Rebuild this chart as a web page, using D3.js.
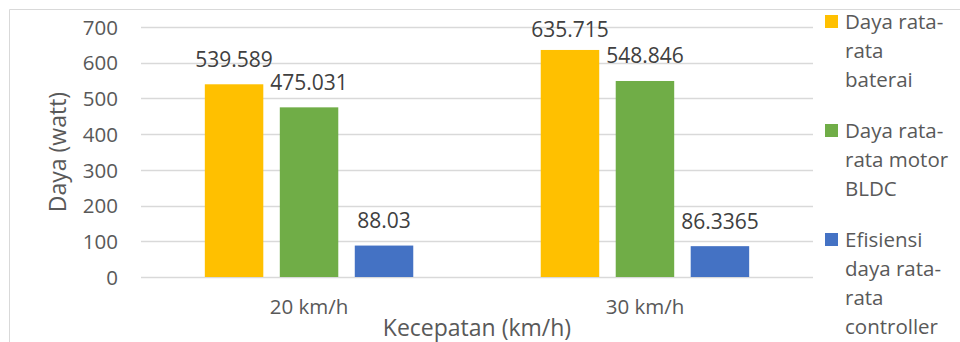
<!DOCTYPE html>
<html>
<head>
<meta charset="utf-8">
<script src="https://cdn.jsdelivr.net/npm/d3@7/dist/d3.min.js"></script>
<style>
  html, body { margin: 0; padding: 0; background: #ffffff; }
  svg { display: block; }
  text { font-family: "Open Sans", "Noto Sans", sans-serif; }
</style>
</head>
<body>
<svg id="chart" width="960" height="342"></svg>
<script>
// Speed categories
const categories = ["20 km/h", "30 km/h"];
// Series names (legend lines are split where the text wraps)
const seriesNames = [
  ["Daya rata-", "rata", "baterai"],
  ["Daya rata-", "rata motor", "BLDC"],
  ["Efisiensi", "daya rata-", "rata", "controller"]
];
const seriesColors = ["#ffc000", "#70ad47", "#4472c4"];
// Values per series, one per category
const bateraiValues = [539.589, 635.715];
const motorValues = [475.031, 548.846];
const controllerValues = [88.03, 86.3365];
const valueLabels = [["539.589", "635.715"], ["475.031", "548.846"], ["88.03", "86.3365"]];
const yTicks = [0, 100, 200, 300, 400, 500, 600, 700];

const seriesValues = [bateraiValues, motorValues, controllerValues];

const svg = d3.select("#chart");
const plot = { left: 141, right: 813, top: 27, bottom: 277 };

// Outer chart border (extends past the right and bottom edges)
svg.append("path")
  .attr("d", "M9.5,400 V9.5 H1000")
  .attr("fill", "none")
  .attr("stroke", "#d9d9d9")
  .attr("stroke-width", 1);

const y = d3.scaleLinear().domain([0, 700]).range([plot.bottom, plot.top]);
const x0 = d3.scaleBand().domain(categories)
  .range([plot.left, plot.right])
  .paddingInner(0.3795).paddingOuter(0.19);
const x1 = d3.scaleBand().domain(d3.range(seriesValues.length))
  .range([0, x0.bandwidth()])
  .paddingInner(0.22).paddingOuter(0);

// Gridlines
svg.append("g")
  .selectAll("line")
  .data(yTicks)
  .join("line")
  .attr("x1", plot.left).attr("x2", plot.right)
  .attr("y1", d => Math.round(y(d)) + 0.5)
  .attr("y2", d => Math.round(y(d)) + 0.5)
  .attr("stroke", "#d9d9d9")
  .attr("stroke-width", 1.3);

// Y axis tick labels
const yAxis = d3.axisLeft(y).tickValues(yTicks).tickSize(0).tickPadding(0).tickFormat(d3.format("d"));
const yg = svg.append("g").attr("transform", "translate(118,0)").call(yAxis);
yg.select(".domain").remove();
yg.selectAll("text")
  .attr("fill", "#595959")
  .style("font-size", "20.5px")
  .attr("dy", "0.35em");

// Bars
const groups = svg.append("g")
  .selectAll("g")
  .data(categories)
  .join("g")
  .attr("transform", d => `translate(${x0(d)},0)`);

groups.selectAll("rect")
  .data((d, i) => seriesValues.map((vals, s) => ({ s, v: vals[i], label: valueLabels[s][i] })))
  .join("rect")
  .attr("x", d => x1(d.s))
  .attr("width", x1.bandwidth())
  .attr("y", d => y(d.v))
  .attr("height", d => y(0) - y(d.v))
  .attr("fill", d => seriesColors[d.s]);

// Value labels above each bar, kept inside the plot area
groups.selectAll("text.val")
  .data((d, i) => seriesValues.map((vals, s) => ({ s, v: vals[i], label: valueLabels[s][i] })))
  .join("text")
  .attr("class", "val")
  .attr("x", d => x1(d.s) + x1.bandwidth() / 2)
  .attr("y", d => Math.max(y(d.v) - 17.5, plot.top + 10))
  .attr("text-anchor", "middle")
  .attr("fill", "#404040")
  .style("font-size", "21px")
  .text(d => d.label);

// Category labels
const xAxis = d3.axisBottom(x0).tickSize(0).tickPadding(0);
const xg = svg.append("g").attr("transform", "translate(0,314)").call(xAxis);
xg.select(".domain").remove();
xg.selectAll("text")
  .attr("fill", "#595959")
  .attr("dy", 0)
  .style("font-size", "20.5px");

// Axis titles
svg.append("text")
  .attr("x", (plot.left + plot.right) / 2)
  .attr("y", 336)
  .attr("text-anchor", "middle")
  .attr("fill", "#595959")
  .style("font-size", "23px")
  .text("Kecepatan (km/h)");

svg.append("text")
  .attr("transform", `translate(66,${(plot.top + plot.bottom) / 2}) rotate(-90)`)
  .attr("text-anchor", "middle")
  .attr("fill", "#595959")
  .style("font-size", "23px")
  .text("Daya (watt)");

// Legend
const lineH = 29, entryGap = 22;
let base = 29;
const legend = svg.append("g");
seriesNames.forEach((lines, s) => {
  legend.append("rect")
    .attr("x", 825).attr("y", base - 14)
    .attr("width", 13).attr("height", 13)
    .attr("fill", seriesColors[s]);
  const t = legend.append("text")
    .attr("x", 845).attr("y", base)
    .attr("fill", "#595959")
    .style("font-size", "20.5px");
  lines.forEach((ln, k) => {
    t.append("tspan").attr("x", 845).attr("y", base + k * lineH).text(ln);
  });
  base += lines.length * lineH + entryGap;
});
</script>
</body>
</html>
